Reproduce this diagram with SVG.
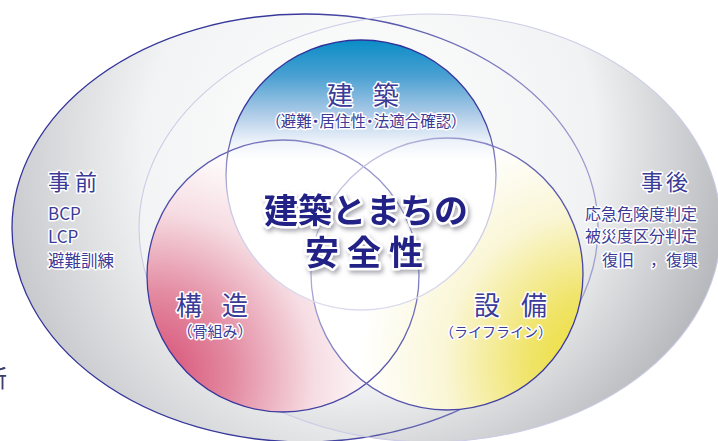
<svg xmlns="http://www.w3.org/2000/svg" width="718" height="441" viewBox="0 0 718 441">
<defs>
<radialGradient id="gL" gradientUnits="userSpaceOnUse" cx="390" cy="150" r="410">
<stop offset="0" stop-color="#ffffff"/><stop offset="0.6" stop-color="#f2f3f4"/><stop offset="1" stop-color="#c3c4c8"/>
</radialGradient>
<radialGradient id="gR" gradientUnits="userSpaceOnUse" cx="350" cy="140" r="410">
<stop offset="0" stop-color="#ffffff"/><stop offset="0.6" stop-color="#f1f2f3"/><stop offset="1" stop-color="#aeafb4"/>
</radialGradient>
<radialGradient id="gP" gradientUnits="userSpaceOnUse" cx="150" cy="375" r="235">
<stop offset="0" stop-color="#d64a72"/><stop offset="0.35" stop-color="#e38aa1"/><stop offset="0.7" stop-color="#f6dde3"/><stop offset="1" stop-color="#ffffff"/>
</radialGradient>
<radialGradient id="gY" gradientUnits="userSpaceOnUse" cx="600" cy="365" r="240">
<stop offset="0" stop-color="#ecdc2c"/><stop offset="0.3" stop-color="#f0e46a"/><stop offset="0.65" stop-color="#faf6d6"/><stop offset="1" stop-color="#ffffff"/>
</radialGradient>
<linearGradient id="gB" gradientUnits="userSpaceOnUse" x1="0" y1="40" x2="0" y2="160">
<stop offset="0" stop-color="#0a8dc6"/><stop offset="0.3" stop-color="#4aa0d2"/><stop offset="0.6" stop-color="#a9c9e6"/><stop offset="0.85" stop-color="#eef3fa"/><stop offset="1" stop-color="#ffffff"/>
</linearGradient>
<linearGradient id="sP" gradientUnits="userSpaceOnUse" x1="170" y1="380" x2="400" y2="160">
<stop offset="0" stop-color="#30309a"/><stop offset="0.6" stop-color="#5e5cb0"/><stop offset="1" stop-color="#a8a6d6"/>
</linearGradient>
<linearGradient id="sY" gradientUnits="userSpaceOnUse" x1="580" y1="380" x2="330" y2="180">
<stop offset="0" stop-color="#30309a"/><stop offset="0.55" stop-color="#6664b4"/><stop offset="1" stop-color="#cfcde8"/>
</linearGradient>
<linearGradient id="sB" gradientUnits="userSpaceOnUse" x1="0" y1="40" x2="0" y2="310">
<stop offset="0" stop-color="#30309a"/><stop offset="0.3" stop-color="#3c3ca0"/><stop offset="0.45" stop-color="#8886c2"/><stop offset="0.6" stop-color="#c8c6e4"/><stop offset="1" stop-color="#dddcee"/>
</linearGradient>
<linearGradient id="sL" gradientUnits="userSpaceOnUse" x1="10" y1="0" x2="600" y2="0">
<stop offset="0" stop-color="#333399"/><stop offset="0.5" stop-color="#3a3a9c"/><stop offset="1" stop-color="#a2a0d2"/>
</linearGradient>
<filter id="shadow" x="-10%" y="-20%" width="130%" height="150%">
<feGaussianBlur in="SourceAlpha" stdDeviation="2"/>
<feOffset dx="2" dy="3" result="b"/>
<feFlood flood-color="#6a6a78" flood-opacity="0.55"/>
<feComposite in2="b" operator="in"/>
<feMerge><feMergeNode/><feMergeNode in="SourceGraphic"/></feMerge>
</filter>
</defs>
<style>
.lbl{font-family:"Noto Sans CJK JP","Noto Sans",sans-serif;fill:#3b3b98;stroke:#ffffff;stroke-width:3;stroke-linejoin:round;paint-order:stroke}
.big{font-size:26px}
.mid{font-size:22px}
.sm{font-size:16px}
.ttl{font-family:"Noto Sans CJK JP",sans-serif;font-weight:700;font-size:34px;fill:#232386;stroke:#ffffff;stroke-width:5;stroke-linejoin:round;paint-order:stroke}
.cs{fill:none;stroke-width:1.3}
</style>

<g id="zones">
<ellipse id="jizen-area" cx="305" cy="228" rx="293" ry="214" fill="url(#gL)"/>
<ellipse id="jigo-area" cx="430" cy="228" rx="291" ry="214" fill="url(#gR)"/>
<ellipse cx="305" cy="228" rx="293" ry="214" fill="none" stroke="url(#sL)" stroke-width="1.3"/>
<ellipse cx="430" cy="228" rx="291" ry="214" fill="none" stroke="#cccbe6" stroke-width="1.1"/>
</g>

<g id="circles">
<circle id="kozo-area" cx="283" cy="276" r="136" fill="url(#gP)"/>
<circle id="setsubi-area" cx="447" cy="274" r="136" fill="url(#gY)"/>
<circle id="kenchiku-area" cx="361" cy="175" r="135" fill="url(#gB)"/>
<circle class="cs" cx="283" cy="276" r="136" stroke="url(#sP)"/>
<circle class="cs" cx="447" cy="274" r="136" stroke="url(#sY)"/>
<circle class="cs" cx="361" cy="175" r="135" stroke="url(#sB)"/>
</g>

<g id="jizen">
<text class="lbl mid" x="48" y="190" letter-spacing="5">事前</text>
<text class="lbl" x="48" y="220" font-size="17" font-family="Noto Sans, sans-serif">BCP</text>
<text class="lbl" x="48" y="243" font-size="17" font-family="Noto Sans, sans-serif">LCP</text>
<text class="lbl" x="48" y="267" font-size="16.5">避難訓練</text>
</g>

<g id="jigo">
<text class="lbl mid" x="641" y="190" letter-spacing="3">事後</text>
<text class="lbl sm" x="585" y="220">応急危険度判定</text>
<text class="lbl sm" x="585" y="242">被災度区分判定</text>
<text class="lbl sm" x="602" y="266">復旧　，復興</text>
</g>

<g id="kenchiku">
<text class="lbl big" x="327" y="105" letter-spacing="20">建築</text>
<text class="lbl" x="366" y="127" font-size="15.5" text-anchor="middle" style="font-feature-settings:'palt'">（避難・居住性・法適合確認）</text>
</g>

<g id="kozo">
<text class="lbl big" x="176" y="315" letter-spacing="20">構造</text>
<text class="lbl" x="215" y="337" font-size="15" text-anchor="middle">（骨組み）</text>
</g>

<g id="setsubi">
<text class="lbl big" x="474" y="315" letter-spacing="21">設備</text>
<text class="lbl" x="496" y="337" font-size="14" text-anchor="middle">（ライフライン）</text>
</g>

<g id="title" filter="url(#shadow)">
<text class="ttl" x="264" y="223">建築とまちの</text>
<text class="ttl" x="305" y="265" letter-spacing="8">安全性</text>
</g>

<g id="edge-text">
<text x="7" y="387" font-size="24" text-anchor="end" font-family="Noto Sans CJK JP, sans-serif" fill="#3d3d6a">新</text>
</g>
</svg>
